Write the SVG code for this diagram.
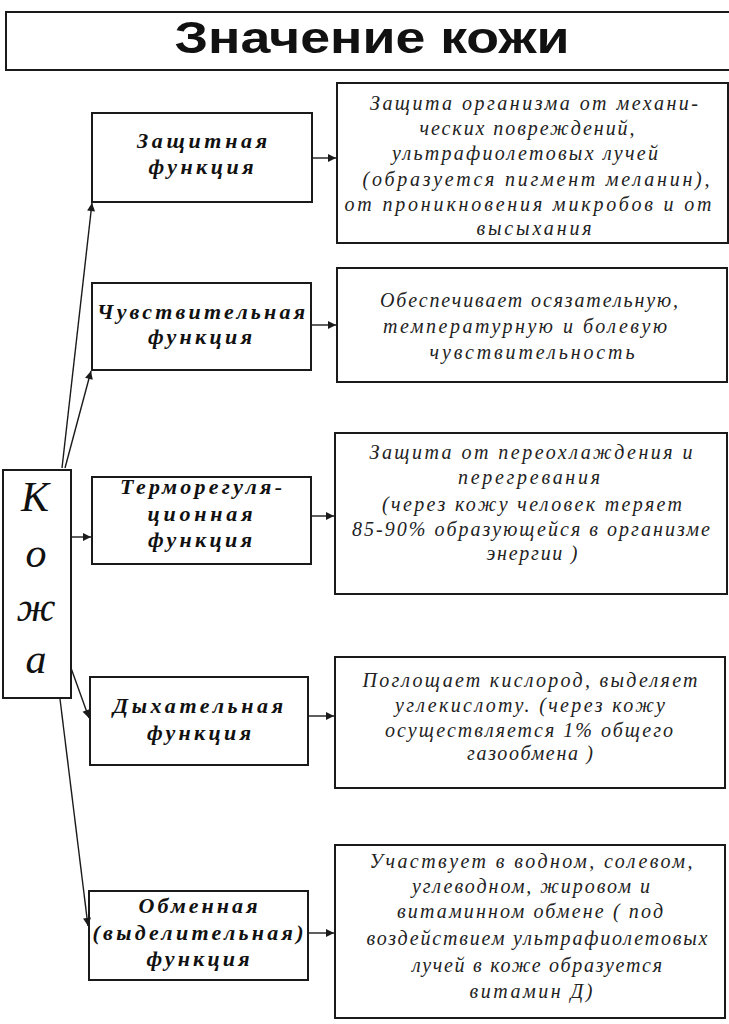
<svg xmlns="http://www.w3.org/2000/svg" width="729" height="1024" viewBox="0 0 729 1024">
<defs>
<marker id="ah" viewBox="0 0 10 10" refX="10" refY="5" markerWidth="11" markerHeight="8" markerUnits="userSpaceOnUse" orient="auto"><path d="M0,0 L10,5 L0,10 z" fill="#1a1a1a"/></marker>
</defs>
<style>
.box{fill:#fff;stroke:#1a1a1a;stroke-width:2}
.fn{font-family:"Liberation Serif","DejaVu Serif",serif;font-style:italic;font-weight:bold;font-size:22px;fill:#111;text-anchor:middle}
.ds{font-family:"Liberation Serif","DejaVu Serif",serif;font-style:italic;font-size:20px;fill:#222;text-anchor:middle}
.kz{font-family:"Liberation Serif","DejaVu Serif",serif;font-style:italic;font-size:42px;fill:#111;text-anchor:middle}
.title{font-family:"Liberation Sans",Arial,sans-serif;font-weight:bold;font-size:44px;fill:#111;text-anchor:middle}
.con{stroke:#1a1a1a;stroke-width:1.4;fill:none;marker-end:url(#ah)}
</style>
<rect width="729" height="1024" fill="#fff"/>
<g id="title">
<rect class="box" x="6" y="12" width="740" height="58"/>
<text class="title" x="372" y="53" textLength="395" lengthAdjust="spacingAndGlyphs">Значение кожи</text>
</g>
<g id="kozha">
<rect class="box" x="3" y="470" width="68" height="228"/>
<text class="kz" x="35" y="511" font-size="34">К</text>
<text class="kz" x="36" y="567">о</text>
<text class="kz" x="36" y="621">ж</text>
<text class="kz" x="36" y="673">а</text>
</g>
<g id="f1">
<rect class="box" x="92" y="113" width="220" height="89"/>
<text class="fn" x="202" y="148" textLength="130" lengthAdjust="spacing">Защитная</text>
<text class="fn" x="201" y="174" textLength="105" lengthAdjust="spacing">функция</text>
</g>
<g id="f2">
<rect class="box" x="92" y="283" width="219" height="87"/>
<text class="fn" x="201" y="319" textLength="208" lengthAdjust="spacing">Чувствительная</text>
<text class="fn" x="200" y="344" textLength="104" lengthAdjust="spacing">функция</text>
</g>
<g id="f3">
<rect class="box" x="92" y="477" width="219" height="87"/>
<text class="fn" x="201" y="494" textLength="162" lengthAdjust="spacing">Терморегуля-</text>
<text class="fn" x="200" y="521" textLength="105" lengthAdjust="spacing">ционная</text>
<text class="fn" x="200" y="547" textLength="104" lengthAdjust="spacing">функция</text>
</g>
<g id="f4">
<rect class="box" x="90" y="677" width="218" height="88"/>
<text class="fn" x="198" y="713" textLength="170" lengthAdjust="spacing">Дыхательная</text>
<text class="fn" x="199" y="740" textLength="104" lengthAdjust="spacing">функция</text>
</g>
<g id="f5">
<rect class="box" x="89" y="891" width="219" height="89"/>
<text class="fn" x="198" y="913" textLength="119" lengthAdjust="spacing">Обменная</text>
<text class="fn" x="198" y="940" textLength="211" lengthAdjust="spacing">(выделительная)</text>
<text class="fn" x="198" y="966" textLength="103" lengthAdjust="spacing">функция</text>
</g>
<g id="d1">
<rect class="box" x="337" y="83" width="391" height="160"/>
<text class="ds" x="534" y="110" textLength="328" lengthAdjust="spacing">Защита организма от механи-</text>
<text class="ds" x="527" y="135" textLength="215" lengthAdjust="spacing">ческих повреждений,</text>
<text class="ds" x="525" y="160" textLength="266" lengthAdjust="spacing">ультрафиолетовых лучей</text>
<text class="ds" x="536" y="186" textLength="347" lengthAdjust="spacing">(образуется пигмент меланин),</text>
<text class="ds" x="528" y="211" textLength="367" lengthAdjust="spacing">от проникновения микробов и от</text>
<text class="ds" x="534" y="235" textLength="115" lengthAdjust="spacing">высыхания</text>
</g>
<g id="d2">
<rect class="box" x="337" y="268" width="390" height="114"/>
<text class="ds" x="529" y="307" textLength="298" lengthAdjust="spacing">Обеспечивает осязательную,</text>
<text class="ds" x="525" y="333" textLength="284" lengthAdjust="spacing">температурную и болевую</text>
<text class="ds" x="532" y="359" textLength="205" lengthAdjust="spacing">чувствительность</text>
</g>
<g id="d3">
<rect class="box" x="335" y="433" width="392" height="161"/>
<text class="ds" x="531" y="459" textLength="323" lengthAdjust="spacing">Защита от переохлаждения и</text>
<text class="ds" x="529" y="484" textLength="142" lengthAdjust="spacing">перегревания</text>
<text class="ds" x="532" y="511" textLength="300" lengthAdjust="spacing">(через кожу человек теряет</text>
<text class="ds" x="531" y="536" textLength="358" lengthAdjust="spacing">85-90% образующейся в организме</text>
<text class="ds" x="532" y="560" textLength="91" lengthAdjust="spacing">энергии )</text>
</g>
<g id="d4">
<rect class="box" x="335" y="657" width="390" height="131"/>
<text class="ds" x="530" y="687" textLength="335" lengthAdjust="spacing">Поглощает кислород, выделяет</text>
<text class="ds" x="530" y="712" textLength="270" lengthAdjust="spacing">углекислоту. (через кожу</text>
<text class="ds" x="529" y="737" textLength="288" lengthAdjust="spacing">осуществляется 1% общего</text>
<text class="ds" x="530" y="760" textLength="126" lengthAdjust="spacing">газообмена )</text>
</g>
<g id="d5">
<rect class="box" x="335" y="845" width="390" height="173"/>
<text class="ds" x="531" y="868" textLength="323" lengthAdjust="spacing">Участвует в водном, солевом,</text>
<text class="ds" x="531" y="893" textLength="238" lengthAdjust="spacing">углеводном, жировом и</text>
<text class="ds" x="530" y="918" textLength="266" lengthAdjust="spacing">витаминном обмене ( под</text>
<text class="ds" x="537" y="945" textLength="341" lengthAdjust="spacing">воздействием ультрафиолетовых</text>
<text class="ds" x="537" y="972" textLength="250" lengthAdjust="spacing">лучей в коже образуется</text>
<text class="ds" x="531" y="998" textLength="123" lengthAdjust="spacing">витамин Д)</text>
</g>
<g id="connectors">
<line class="con" x1="62" y1="468" x2="92" y2="203"/>
<line class="con" x1="65" y1="468" x2="91" y2="371"/>
<line class="con" x1="71" y1="537" x2="91" y2="537"/>
<line class="con" x1="71" y1="668" x2="89" y2="718"/>
<line class="con" x1="60" y1="699" x2="88" y2="926"/>
<line class="con" x1="312" y1="158" x2="336" y2="158"/>
<line class="con" x1="311" y1="325" x2="336" y2="325"/>
<line class="con" x1="311" y1="516" x2="334" y2="516"/>
<line class="con" x1="308" y1="716" x2="334" y2="716"/>
<line class="con" x1="308" y1="933" x2="334" y2="933"/>
</g>
</svg>
